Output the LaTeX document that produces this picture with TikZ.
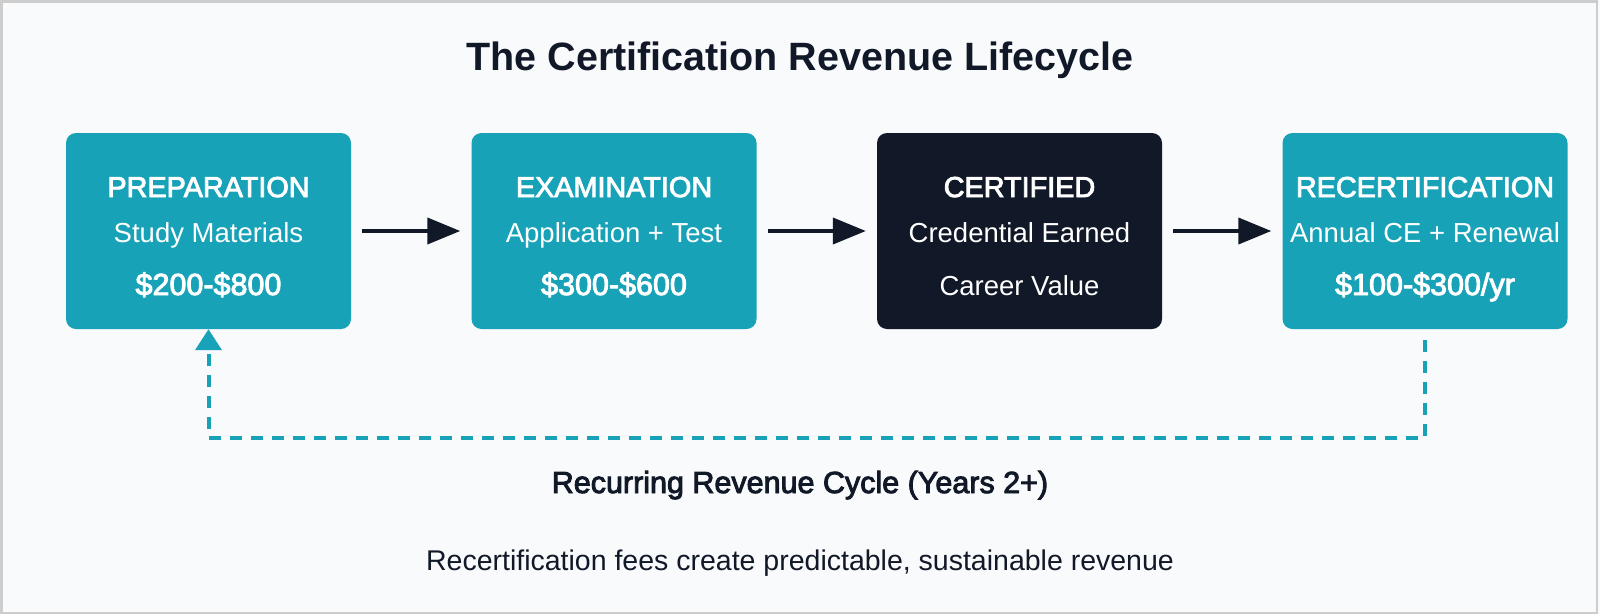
\documentclass[tikz,border=0pt]{standalone}
\usepackage{fontspec}
\setmainfont{Liberation Sans}
\newfontfamily\medfont{Liberation Sans}[FakeBold=3]
\usetikzlibrary{arrows.meta}
\definecolor{tealc}{HTML}{17A2B8}
\definecolor{navyc}{HTML}{111827}
\definecolor{bgc}{HTML}{F9FAFB}
\definecolor{framec}{HTML}{CDCDCD}
\begin{document}
\begin{tikzpicture}[x=1pt,y=-1pt,
  stagebox/.style={minimum width=285pt,minimum height=196pt,rounded corners=10pt,inner sep=0pt,draw=none},
  hd/.style={anchor=base,text=white,inner sep=0pt,font=\medfont\fontsize{28.8}{34}\selectfont},
  sub/.style={anchor=base,text=white,inner sep=0pt,font=\fontsize{27.5}{33}\selectfont},
  price/.style={anchor=base,text=white,inner sep=0pt,font=\medfont\fontsize{30.5}{36}\selectfont},
  flow/.style={draw=navyc,line width=4pt,-{Triangle[length=33pt,width=26pt]}},
  loopline/.style={draw=tealc,line width=4pt,dash pattern=on 12pt off 9pt,-{Triangle[length=21pt,width=26pt]}}
]
\useasboundingbox (0,0) rectangle (1600,614);
\fill[bgc] (0,0) rectangle (1600,614);
\draw[framec,line width=2.5pt] (1.25,1.25) rectangle (1597,612.75);

\node[anchor=base,inner sep=0pt,text=navyc,font=\bfseries\fontsize{39.5}{47}\selectfont] (title) at (800,70) {The Certification Revenue Lifecycle};

\node[stagebox,fill=tealc] (b1) at (208.5,231) {};
\node[stagebox,fill=tealc] (b2) at (614,231) {};
\node[stagebox,fill=navyc] (b3) at (1019.5,231) {};
\node[stagebox,fill=tealc] (b4) at (1425,231) {};

\node[hd] (h1) at (208.5,197) {PREPARATION};
\node[sub] (s1) at (208.5,242) {Study Materials};
\node[price] (p1) at (208.5,295) {\$200-\$800};

\node[hd] (h2) at (614,197) {EXAMINATION};
\node[sub] (s2) at (614,242) {Application + Test};
\node[price] (p2) at (614,295) {\$300-\$600};

\node[hd] (h3) at (1019.5,197) {CERTIFIED};
\node[sub] (s3) at (1019.5,242) {Credential Earned};
\node[sub] (p3) at (1019.5,295) {Career Value};

\node[hd] (h4) at (1425,197) {RECERTIFICATION};
\node[sub] (s4) at (1425,242) {Annual CE + Renewal};
\node[price] (p4) at (1425,295) {\$100-\$300/yr};

\draw[flow] ([xshift=11pt]b1.east) -- ([xshift=-11pt]b2.west);
\draw[flow] ([xshift=11pt]b2.east) -- ([xshift=-11pt]b3.west);
\draw[flow] ([xshift=11pt]b3.east) -- ([xshift=-11pt]b4.west);

\coordinate (c1) at (1425,438);
\coordinate (c2) at (208.5,438);
\draw[loopline] ([yshift=-11pt]b4.south) -- (c1) -- (c2) -- (b1.south);

\node[anchor=base,inner sep=0pt,text=navyc,font=\medfont\fontsize{30.5}{36}\selectfont] (cyc) at (800,493) {Recurring Revenue Cycle (Years 2+)};
\node[anchor=base,inner sep=0pt,text=navyc,font=\fontsize{28.5}{34}\selectfont] (note) at (800,570) {Recertification fees create predictable, sustainable revenue};
\end{tikzpicture}
\end{document}
